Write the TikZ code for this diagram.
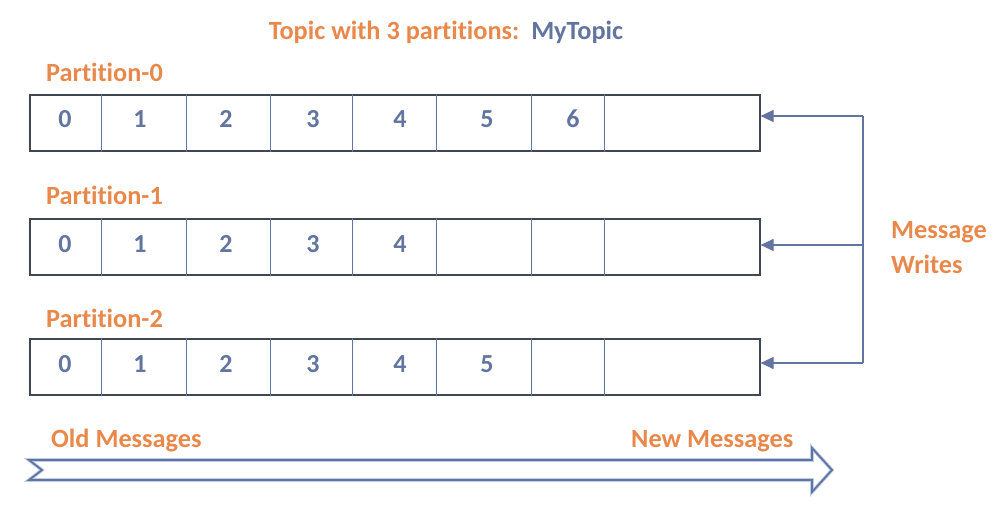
\documentclass[tikz,border=0pt]{standalone}
\usepackage{fontspec}
\setmainfont[Ligatures=NoCommon]{Carlito}
\usetikzlibrary{arrows.meta}
\definecolor{korange}{RGB}{232,136,74}
\definecolor{kblue}{RGB}{98,117,160}
\definecolor{kframe}{RGB}{64,70,82}
\definecolor{kglow}{RGB}{190,205,235}
\tikzset{
  lbl/.style={font=\fontsize{26.3}{30}\selectfont\bfseries, text=korange, inner sep=0pt, anchor=base west},
  digit/.style={font=\fontsize{26}{30}\selectfont\bfseries, text=kblue, inner sep=0pt, anchor=base},
  rowbox/.style={draw=kframe, line width=1.6pt, minimum width=730pt, minimum height=56pt, inner sep=0pt, anchor=north west},
  divider/.style={draw=kblue, line width=1pt},
  writeline/.style={draw=kblue, line width=1.2pt},
  writearrow/.style={writeline, -{Triangle[length=13pt,width=12pt]}},
}
\begin{document}
\begin{tikzpicture}[x=1pt,y=-1pt]
\useasboundingbox (0,0) rectangle (997,524);
% title
\node[lbl, anchor=base] (title) at (446,40) {Topic with 3 partitions:\ \ \textcolor{kblue}{MyTopic}};
% partition labels
\node[lbl] (p0) at (46,82) {Partition-0};
\node[lbl] (p1) at (46,205) {Partition-1};
\node[lbl] (p2) at (46,327) {Partition-2};
% rows
\node[rowbox] (r0) at (29,94) {};
\node[rowbox] (r1) at (29,218) {};
\node[rowbox] (r2) at (29,338) {};
% dividers
\foreach \r in {r0,r1,r2}{
  \foreach \x in {101,186,270,352,436,531,604}{
    \draw[divider] (\r.north west -| \x,0) -- (\r.south west -| \x,0);
  }
}
% digits row 0
\foreach \d/\x in {0/65,1/140,2/226,3/313,4/400,5/487,6/573}{
  \node[digit] (a\d) at (\x,128) {\d};
}
% digits row 1
\foreach \d/\x in {0/65,1/140,2/226,3/313,4/400}{
  \node[digit] (b\d) at (\x,252) {\d};
}
% digits row 2
\foreach \d/\x in {0/65,1/140,2/226,3/313,4/400,5/487}{
  \node[digit] (c\d) at (\x,372) {\d};
}
% message writes
\coordinate (wt) at (863,116);
\coordinate (wm) at (863,245);
\coordinate (wb) at (863,363);
\draw[writeline] (wt) -- (wb);
\draw[writearrow] (wt) -- (wt -| r0.east);
\draw[writearrow] (wm) -- (wm -| r1.east);
\draw[writearrow] (wb) -- (wb -| r2.east);
\node[lbl] (mw1) at (891,238) {Message};
\node[lbl] (mw2) at (891,273) {Writes};
% big arrow
\node[lbl] (old) at (51,447) {Old Messages};
\node[lbl] (new) at (631,447) {New Messages};
\def\bigarrow{(29,460) -- (812,460) -- (812,448) -- (832,470) -- (812,492) -- (812,480) -- (29,480) -- (42,470) -- cycle}
\draw[kglow, line width=3.6pt, line join=miter] \bigarrow;
\draw[kblue, line width=1.8pt, line join=miter] \bigarrow;
\end{tikzpicture}
\end{document}
